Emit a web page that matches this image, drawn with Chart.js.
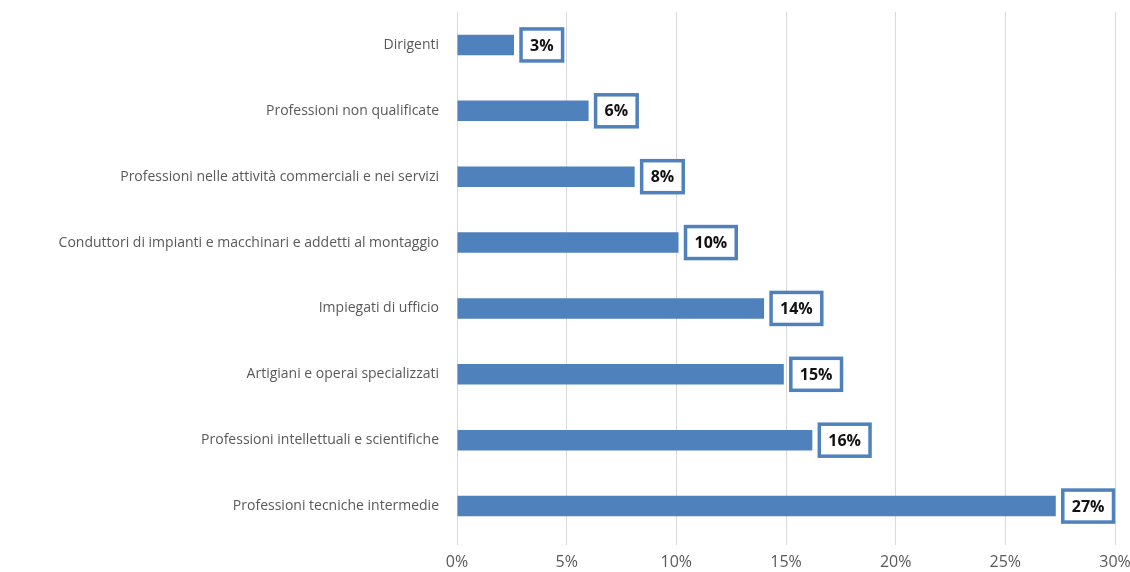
<!DOCTYPE html>
<html>
<head>
<meta charset="utf-8">
<script src="https://cdn.jsdelivr.net/npm/chart.js@4"></script>
<style>
  html, body { margin: 0; padding: 0; background: #fff; }
  #wrap { width: 1130px; height: 572px; }
</style>
</head>
<body>
<div id="wrap"><canvas id="profChart" width="1130" height="572"></canvas></div>
<script>
const categories = [
  "Dirigenti",
  "Professioni non qualificate",
  "Professioni nelle attività commerciali e nei servizi",
  "Conduttori di impianti e macchinari e addetti al montaggio",
  "Impiegati di ufficio",
  "Artigiani e operai specializzati",
  "Professioni intellettuali e scientifiche",
  "Professioni tecniche intermedie",
];
const shares = [2.6, 6.0, 8.1, 10.1, 14.0, 14.9, 16.2, 27.3];
const tickValues = [0, 5, 10, 15, 20, 25, 30];

const blue = "#4f81bd";

// boxed value labels to the right of each bar
const valueBoxes = {
  id: "valueBoxes",
  afterDatasetsDraw(chart) {
    const ctx = chart.ctx;
    const meta = chart.getDatasetMeta(0);
    ctx.save();
    ctx.font = "bold 16px 'Open Sans', sans-serif";
    ctx.textAlign = "center";
    ctx.textBaseline = "middle";
    meta.data.forEach((bar, i) => {
      const text = Math.round(shares[i]) + "%";
      const w = ctx.measureText(text).width + 18;
      const h = 32;
      const x = bar.x + 7;
      const y = bar.y - h / 2;
      ctx.fillStyle = "#fff";
      ctx.fillRect(x, y, w, h);
      ctx.lineWidth = 3.5;
      ctx.strokeStyle = blue;
      ctx.strokeRect(x, y, w, h);
      ctx.fillStyle = "#111";
      ctx.fillText(text, x + w / 2, bar.y + 1);
    });
    ctx.restore();
  },
};

new Chart(document.getElementById("profChart"), {
  type: "bar",
  data: {
    labels: categories,
    datasets: [
      {
        data: shares,
        backgroundColor: blue,
        barPercentage: 0.31,
        categoryPercentage: 1,
      },
    ],
  },
  options: {
    indexAxis: "y",
    responsive: false,
    animation: false,
    layout: { padding: 0 },
    scales: {
      x: {
        min: 0,
        max: 30,
        afterBuildTicks(axis) {
          axis.ticks = tickValues.map((v) => ({ value: v }));
        },
        afterFit(axis) {
          axis.paddingRight = 15;
          axis.height = 33;
        },
        grid: { color: "#d9d9d9", tickLength: 6, drawTicks: true },
        border: { display: false },
        ticks: {
          color: "#595959",
          font: { family: "'Open Sans', sans-serif", size: 16 },
          padding: 8,
          callback: (v) => v + "%",
        },
      },
      y: {
        grid: { display: false },
        border: { display: false },
        afterFit(axis) {
          axis.width = 457;
          axis.paddingTop = 12;
        },
        ticks: {
          color: "#595959",
          font: { family: "'Open Sans', sans-serif", size: 14 },
          padding: 10,
        },
      },
    },
    plugins: {
      legend: { display: false },
      tooltip: { enabled: false },
    },
  },
  plugins: [valueBoxes],
});
</script>
</body>
</html>
